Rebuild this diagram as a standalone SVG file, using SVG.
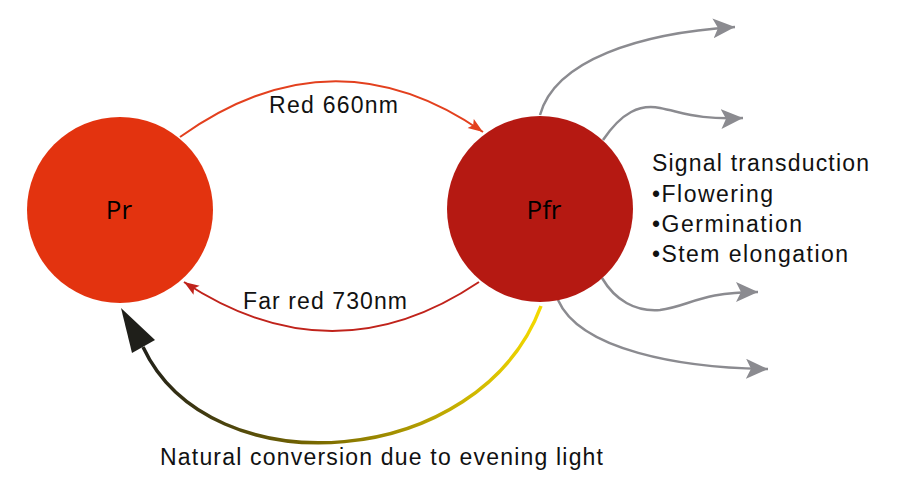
<svg xmlns="http://www.w3.org/2000/svg" width="904" height="499" viewBox="0 0 904 499">
<style>
.lbl{font-family:"Liberation Sans",Arial,sans-serif;font-size:23px;fill:#111;}
.node{font-family:"Open Sans","Noto Sans",sans-serif;font-size:26px;fill:#000;text-anchor:middle;}
.gray{fill:none;stroke:#8b8b90;stroke-width:2.5;}
</style>
<defs>
<marker id="ag" markerUnits="userSpaceOnUse" markerWidth="24" markerHeight="22" refX="22" refY="10" orient="auto">
<path d="M0,0 L22,10 L0,20 L5,10 z" fill="#8b8b90"/>
</marker>
<marker id="ar" markerUnits="userSpaceOnUse" markerWidth="16" markerHeight="12" refX="15" refY="5.5" orient="auto">
<path d="M0,0 L15,5.5 L0,11 L3,5.5 z" fill="#e3401e"/>
</marker>
<marker id="afr" markerUnits="userSpaceOnUse" markerWidth="16" markerHeight="12" refX="15" refY="5.5" orient="auto">
<path d="M0,0 L15,5.5 L0,11 L3,5.5 z" fill="#c0231b"/>
</marker>
<linearGradient id="gy" gradientUnits="userSpaceOnUse" x1="135" y1="0" x2="545" y2="0">
<stop offset="0" stop-color="#1e1e1a"/>
<stop offset="0.45" stop-color="#7a6a00"/>
<stop offset="1" stop-color="#f7dc00"/>
</linearGradient>
</defs>

<g id="connectors">
<path d="M180,137 Q333,28 483,132" fill="none" stroke="#e3401e" stroke-width="2" marker-end="url(#ar)"/>
<path d="M479,282 Q333,380 184,282" fill="none" stroke="#c0231b" stroke-width="2" marker-end="url(#afr)"/>
<path d="M541,306 C480,470 210,490 143,347" fill="none" stroke="url(#gy)" stroke-width="3.5"/>
<polygon points="121,308 155,340 132,353" fill="#1f1f1a"/>
<path class="gray" d="M540,115 C555,60 640,33 735,27" marker-end="url(#ag)"/>
<path class="gray" d="M603,140 C622,112 640,104 660,108 C685,113 700,120 743,118" marker-end="url(#ag)"/>
<path class="gray" d="M602,278 C615,300 635,312 660,310 C690,306 700,292 758,292" marker-end="url(#ag)"/>
<path class="gray" d="M558,300 C580,350 680,368 768,369" marker-end="url(#ag)"/>
</g>

<g id="node-pr">
<circle cx="120" cy="210" r="93" fill="#e3330f"/>
<text class="node" x="119" y="219">Pr</text>
</g>
<g id="node-pfr">
<circle cx="540" cy="209" r="93" fill="#b51912"/>
<text class="node" x="544" y="219">Pfr</text>
</g>

<g id="labels">
<text class="lbl" x="269" y="113" textLength="129" lengthAdjust="spacing">Red 660nm</text>
<text class="lbl" x="243" y="309" textLength="164" lengthAdjust="spacing">Far red 730nm</text>
<text class="lbl" x="160" y="465" textLength="443" lengthAdjust="spacing">Natural conversion due to evening light</text>
<text class="lbl" x="652" y="171" textLength="217" lengthAdjust="spacing">Signal transduction</text>
<text class="lbl" x="652" y="202" textLength="121" lengthAdjust="spacing">•Flowering</text>
<text class="lbl" x="652" y="232" textLength="150" lengthAdjust="spacing">•Germination</text>
<text class="lbl" x="652" y="262" textLength="196" lengthAdjust="spacing">•Stem elongation</text>
</g>
</svg>
